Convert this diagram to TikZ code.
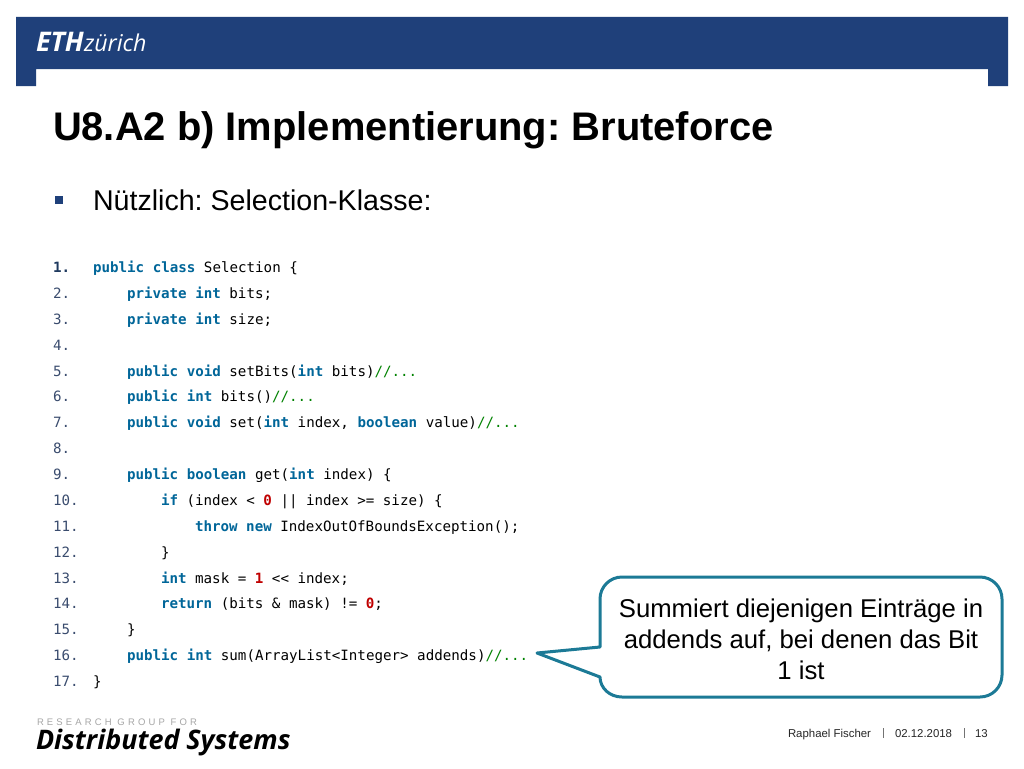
\documentclass[tikz,border=0pt]{standalone}
\usepackage{fontspec}
\setmainfont{Liberation Sans}
\setmonofont{DejaVu Sans Mono}
\newfontfamily\logofont{Open Sans}
\definecolor{ethblue}{HTML}{1F407A}
\definecolor{kwblue}{HTML}{006699}
\definecolor{cmgreen}{HTML}{008200}
\definecolor{numred}{HTML}{C00000}
\definecolor{lnslate}{HTML}{3A4C6E}
\definecolor{lnnavy}{HTML}{1F3A5F}
\definecolor{calloutteal}{HTML}{1C7A96}
\newcommand{\kw}[1]{\textcolor{kwblue}{\bfseries #1}}
\newcommand{\cm}[1]{\textcolor{cmgreen}{#1}}
\newcommand{\nm}[1]{\textcolor{numred}{\bfseries #1}}
\frenchspacing
\tikzset{
  x=1pt,y=-1pt,
  codeline/.style={anchor=base west,inner sep=0pt,outer sep=0pt,font=\ttfamily\fontsize{14.18}{16}\selectfont},
  lineno/.style={codeline,text=lnslate},
  plain/.style={anchor=base west,inner sep=0pt,outer sep=0pt},
  calloutline/.style={anchor=base,inner sep=0pt,font=\fontsize{25.7}{30}\selectfont},
  footertext/.style={plain,text=black!85,font=\fontsize{11.4}{13}\selectfont},
  footerbar/.style={draw=black!55,line width=0.7pt},
  calloutshape/.style={draw=calloutteal,line width=3pt,fill=white,line join=round}
}
\begin{document}
\begin{tikzpicture}
\useasboundingbox (0,0) rectangle (1024,768);
\fill[white] (0,0) rectangle (1024,768);
% banner
\fill[ethblue] (16,17) -- (1008,17) -- (1008,86) -- (988,86) -- (988,69) -- (36,69) -- (36,86) -- (16,86) -- cycle;
\node[plain,text=white,font=\logofont\fontsize{27}{30}\selectfont\bfseries\itshape] (ethlogo) at (36,52) {ETH};
\node[plain,text=white,font=\logofont\fontsize{23.2}{30}\selectfont\itshape] (zurichlogo) at (84,52) {zürich};
% title
\node[plain,font=\fontsize{39.9}{44}\selectfont\bfseries] (title) at (53,140) {U8.A2 b) Implementierung: Bruteforce};
% bullet
\fill[ethblue] (55,196) rectangle (63,204);
\node[plain,font=\fontsize{28.6}{32}\selectfont] (bullet) at (93,210) {Nützlich: Selection-Klasse:};
% line numbers
\node[lineno,text=lnnavy,font=\ttfamily\bfseries\fontsize{14.18}{16}\selectfont] (n1) at (53,272) {1.};
\foreach \i/\yy in {2/298,3/324,4/350,5/376,6/401.5,7/427,8/453.5,9/479,10/505,11/531,12/557,13/583,14/608.5,15/634.5,16/660,17/686}
  \node[lineno] (n\i) at (53,\yy) {\i.};
% code
\node[codeline] (c1) at (93,272) {\kw{public} \kw{class} Selection \{};
\node[codeline] (c2) at (127,298) {\kw{private} \kw{int} bits;};
\node[codeline] (c3) at (127,324) {\kw{private} \kw{int} size;};
\node[codeline] (c5) at (127,376) {\kw{public} \kw{void} setBits(\kw{int} bits)\cm{//...}};
\node[codeline] (c6) at (127,401.5) {\kw{public} \kw{int} bits()\cm{//...}};
\node[codeline] (c7) at (127,427) {\kw{public} \kw{void} set(\kw{int} index, \kw{boolean} value)\cm{//...}};
\node[codeline] (c9) at (127,479) {\kw{public} \kw{boolean} get(\kw{int} index) \{};
\node[codeline] (c10) at (161,505) {\kw{if} (index < \nm{0} || index >= size) \{};
\node[codeline] (c11) at (195,531) {\kw{throw} \kw{new} IndexOutOfBoundsException();};
\node[codeline] (c12) at (161,557) {\}};
\node[codeline] (c13) at (161,583) {\kw{int} mask = \nm{1} << index;};
\node[codeline] (c14) at (161,608.5) {\kw{return} (bits \& mask) != \nm{0};};
\node[codeline] (c15) at (127,634.5) {\}};
\node[codeline] (c16) at (127,660) {\kw{public} \kw{int} sum(ArrayList<Integer> addends)\cm{//...}};
\node[codeline] (c17) at (93,686) {\}};
% callout
\draw[calloutshape] (622,577) -- (980,577) arc[start angle=90,end angle=0,x radius=22,y radius=-22]
  -- (1002,675) arc[start angle=0,end angle=-90,x radius=22,y radius=-22]
  -- (622,697) arc[start angle=-90,end angle=-180,x radius=22,y radius=-20]
  -- (537,653) -- (600,647) -- (600,599)
  arc[start angle=180,end angle=90,x radius=22,y radius=-22] -- cycle;
\node[calloutline] (call1) at (801,617) {Summiert diejenigen Einträge in};
\node[calloutline] (call2) at (801,648) {addends auf, bei denen das Bit};
\node[calloutline] (call3) at (801,679) {1 ist};
% footer logo
\node[plain,text=black!35,font=\fontsize{9.5}{10}\selectfont\addfontfeature{LetterSpace=33}] (research) at (37,725) {RESEARCH GROUP FOR};
\node[plain,font=\logofont\fontsize{26.9}{30}\selectfont\bfseries\itshape] (distsys) at (36,749) {Distributed Systems};
% footer text
\node[footertext] (author) at (788,737) {Raphael Fischer};
\draw[footerbar] (883,728) -- (883,738);
\node[footertext] (date) at (895,737) {02.12.2018};
\draw[footerbar] (964,728) -- (964,738);
\node[footertext] (page) at (975,737) {13};
\end{tikzpicture}
\end{document}
